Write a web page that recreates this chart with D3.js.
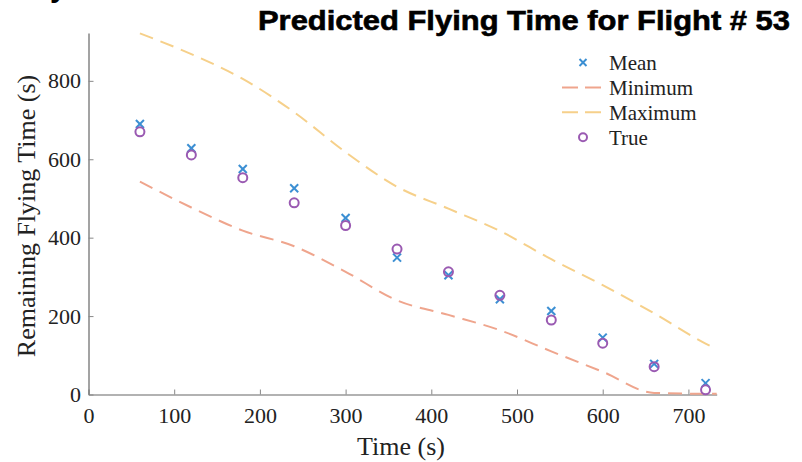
<!DOCTYPE html>
<html>
<head>
<meta charset="utf-8">
<script src="https://cdn.jsdelivr.net/npm/d3@7/dist/d3.min.js"></script>
<style>
  html, body { margin: 0; padding: 0; background: #fff; }
  svg { display: block; }
</style>
</head>
<body>
<div id="chart"></div>
<script>
// ---- data ----
const titleText = "Predicted Flying Time for Flight # 53";
const xLabel = "Time (s)";
const yLabel = "Remaining Flying Time (s)";
const pointTimes = [60, 120, 180, 240, 300, 360, 420, 480, 540, 600, 660, 720];
const meanValues = [690, 628, 575, 526, 450, 349, 304, 243, 213, 145, 78, 29];
const trueValues = [670, 611, 553, 489, 431, 371, 313, 253, 190, 131, 71, 12];
const lineTimes = [60, 120, 180, 240, 300, 360, 420, 480, 540, 600, 660, 720, 733];
const minValues = [543, 477, 418, 378, 313, 240, 203, 164, 110, 58, 4, 2, 2];
const maxValues = [921, 868, 805, 720, 618, 530, 474, 417, 345, 279, 207, 130, 116];
const xTicks = [0, 100, 200, 300, 400, 500, 600, 700];
const yTicks = [0, 200, 400, 600, 800];
const legendNames = ["Mean", "Minimum", "Maximum", "True"];

// ---- style ----
const W = 802, H = 462;
const colMean = "#3b8fd3", colTrue = "#9a5ab2", colMin = "#efa58d", colMax = "#f6d08a";
const serif = "'Liberation Serif', 'Times New Roman', serif";

const svg = d3.select("#chart").append("svg").attr("width", W).attr("height", H);

const x = d3.scaleLinear().domain([0, 733]).range([88.5, 716.7]);
const y = d3.scaleLinear().domain([0, 922]).range([394.5, 33]);

// cut-off glyph at top-left (as in the reference)
svg.append("text").attr("x", 50).attr("y", -3)
  .attr("font-family", "'Liberation Sans', Arial, sans-serif").attr("font-weight", "bold")
  .attr("font-size", 30).attr("fill", "#000").text("y");

// title
svg.append("text").attr("x", 258).attr("y", 30)
  .attr("font-family", "'Liberation Sans', Arial, sans-serif").attr("font-weight", "bold")
  .attr("font-size", 27).attr("fill", "#000").attr("stroke", "#000").attr("stroke-width", 0.6)
  .attr("textLength", 532).attr("lengthAdjust", "spacingAndGlyphs")
  .text(titleText);

// axes
const xAxis = d3.axisBottom(x).tickValues(xTicks).tickSizeInner(-5).tickSizeOuter(0).tickPadding(13);
const yAxis = d3.axisLeft(y).tickValues(yTicks).tickSizeInner(-5).tickSizeOuter(0).tickPadding(7.5);

const gx = svg.append("g").attr("transform", `translate(0,${y(0)})`).call(xAxis);
const gy = svg.append("g").attr("transform", `translate(${x(0)},0)`).call(yAxis);
[gx, gy].forEach(g => {
  g.select(".domain").attr("stroke", "#666").attr("stroke-width", 1.2);
  g.selectAll(".tick line").attr("stroke", "#888").attr("stroke-width", 1);
  g.selectAll(".tick text").attr("font-family", serif).attr("font-size", 22).attr("fill", "#222");
});

// axis labels
svg.append("text").attr("x", 401).attr("y", 455).attr("text-anchor", "middle")
  .attr("font-family", serif).attr("font-size", 26).attr("fill", "#222").text(xLabel);
svg.append("text").attr("transform", `translate(35,216) rotate(-90)`).attr("text-anchor", "middle")
  .attr("font-family", serif).attr("font-size", 26).attr("fill", "#222").text(yLabel);

// lines
const lineGen = vals => d3.line().curve(d3.curveMonotoneX)
  .x((d, i) => x(lineTimes[i])).y(d => y(d))(vals);

svg.append("path").attr("d", lineGen(minValues)).attr("fill", "none")
  .attr("stroke", colMin).attr("stroke-width", 2).attr("stroke-dasharray", "14,8");
svg.append("path").attr("d", lineGen(maxValues)).attr("fill", "none")
  .attr("stroke", colMax).attr("stroke-width", 2).attr("stroke-dasharray", "14,8");

// mean crosses
const cross = (g, cx, cy, s) => {
  g.append("line").attr("x1", cx - s).attr("y1", cy - s).attr("x2", cx + s).attr("y2", cy + s);
  g.append("line").attr("x1", cx - s).attr("y1", cy + s).attr("x2", cx + s).attr("y2", cy - s);
};
const gMean = svg.append("g").attr("stroke", colMean).attr("stroke-width", 2);
meanValues.forEach((v, i) => cross(gMean, x(pointTimes[i]), y(v), 4));

// true circles
svg.append("g").selectAll("circle").data(trueValues).join("circle")
  .attr("cx", (d, i) => x(pointTimes[i])).attr("cy", d => y(d)).attr("r", 4.5)
  .attr("fill", "none").attr("stroke", colTrue).attr("stroke-width", 2);

// legend
const lg = svg.append("g");
const rowY = i => 62.5 + i * 24.9;
legendNames.forEach((name, i) => {
  lg.append("text").attr("x", 609).attr("y", rowY(i)).attr("dy", "0.35em")
    .attr("font-family", serif).attr("font-size", 21).attr("fill", "#222").text(name);
});
const lgMean = lg.append("g").attr("stroke", colMean).attr("stroke-width", 2);
cross(lgMean, 583, rowY(0), 3.5);
lg.append("line").attr("x1", 562).attr("x2", 601).attr("y1", rowY(1)).attr("y2", rowY(1))
  .attr("stroke", colMin).attr("stroke-width", 2).attr("stroke-dasharray", "16,7");
lg.append("line").attr("x1", 562).attr("x2", 601).attr("y1", rowY(2)).attr("y2", rowY(2))
  .attr("stroke", colMax).attr("stroke-width", 2).attr("stroke-dasharray", "16,7");
lg.append("circle").attr("cx", 583).attr("cy", rowY(3)).attr("r", 4)
  .attr("fill", "none").attr("stroke", colTrue).attr("stroke-width", 2);
</script>
</body>
</html>
